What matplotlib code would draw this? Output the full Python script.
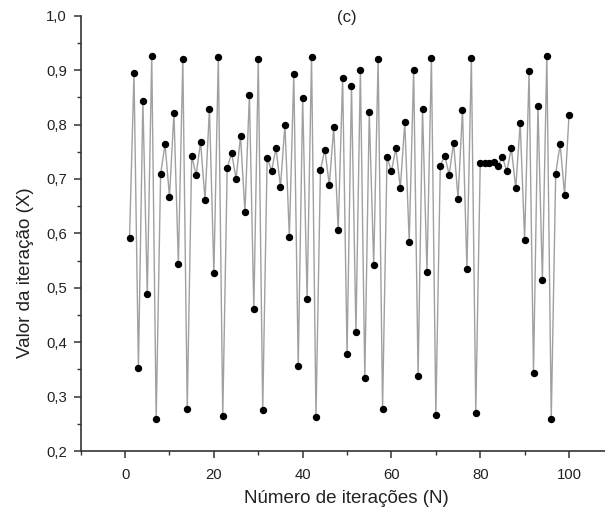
import matplotlib as mpl
mpl.use('Agg')
import matplotlib.pyplot as plt
from matplotlib.ticker import MultipleLocator, FuncFormatter

# iteration index and value of each iteration
n = list(range(1, 101))
x = [0.592, 0.895, 0.352, 0.844, 0.489, 0.926, 0.258, 0.709, 0.764, 0.667,
     0.822, 0.544, 0.920, 0.277, 0.743, 0.707, 0.768, 0.662, 0.829, 0.527,
     0.924, 0.264, 0.720, 0.748, 0.700, 0.779, 0.639, 0.855, 0.461, 0.920,
     0.275, 0.739, 0.715, 0.757, 0.685, 0.800, 0.594, 0.893, 0.356, 0.849,
     0.480, 0.925, 0.263, 0.716, 0.754, 0.689, 0.795, 0.606, 0.886, 0.379,
     0.871, 0.419, 0.901, 0.335, 0.823, 0.542, 0.920, 0.277, 0.740, 0.714,
     0.757, 0.683, 0.804, 0.585, 0.900, 0.338, 0.828, 0.529, 0.923, 0.266,
     0.724, 0.743, 0.708, 0.767, 0.664, 0.826, 0.535, 0.923, 0.270, 0.729,
     0.730, 0.729, 0.732, 0.724, 0.740, 0.714, 0.757, 0.683, 0.803, 0.588,
     0.898, 0.344, 0.834, 0.514, 0.926, 0.259, 0.710, 0.764, 0.671, 0.818]

plt.rcParams['font.family'] = ['Liberation Sans', 'DejaVu Sans']

fig = plt.figure(figsize=(6.05, 5.19), dpi=100)
ax = fig.add_axes([0.1334, 0.131, 0.8805, 0.8387])

ax.plot(n, x, color='#a0a0a0', lw=1.0, zorder=1)
ax.plot(n, x, ls='none', marker='o', ms=4.3, color='black', zorder=2)

ax.set_xlim(-10, 110)
ax.set_ylim(0.2, 1.0)

for s in ['top', 'right']:
    ax.spines[s].set_visible(False)
for s in ['left', 'bottom']:
    ax.spines[s].set_color('#333333')
    ax.spines[s].set_linewidth(1.2)

ax.xaxis.set_major_locator(MultipleLocator(20))
ax.xaxis.set_minor_locator(MultipleLocator(10))
ax.yaxis.set_major_locator(MultipleLocator(0.1))
ax.yaxis.set_minor_locator(MultipleLocator(0.05))
ax.yaxis.set_major_formatter(FuncFormatter(lambda v, p: ('%.1f' % v).replace('.', ',')))

ax.tick_params(which='major', direction='out', length=5, width=1.1, color='#333333',
               labelsize=10.7, labelcolor='#222222')
ax.tick_params(which='minor', direction='out', length=3, width=1.0, color='#333333')
ax.tick_params(axis='x', which='major', pad=7)
ax.tick_params(axis='y', which='major', pad=5)

ax.set_xlabel('Número de iterações (N)', fontsize=13.5, color='#222222', va='center')
ax.xaxis.set_label_coords(0.498, -0.108)
ax.set_ylabel('Valor da iteração (X)', fontsize=13.5, color='#222222', va='center')
ax.yaxis.set_label_coords(-0.103, 0.41)

ax.text(0.5, 0.997, '(c)', transform=ax.transAxes, ha='center', va='center',
        fontsize=12, color='#222222')

fig.savefig('out.png', dpi=100)
